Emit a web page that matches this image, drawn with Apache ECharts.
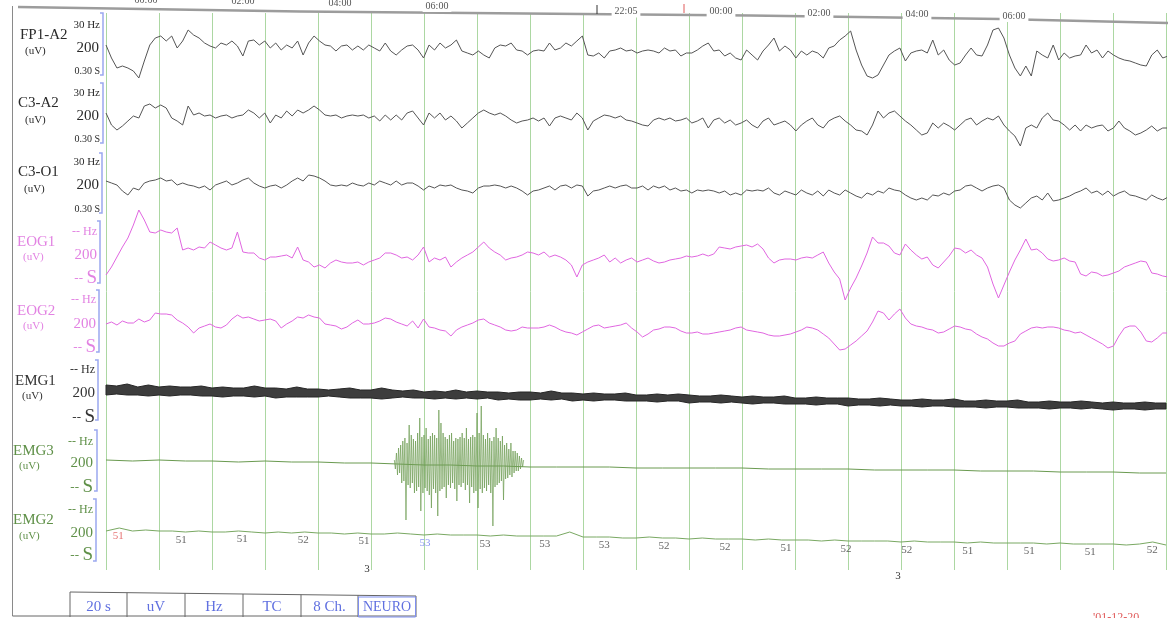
<!DOCTYPE html>
<html><head><meta charset="utf-8">
<script src="https://cdn.jsdelivr.net/npm/echarts@6/dist/echarts.min.js"></script>
<style>html,body{margin:0;padding:0;background:#fff;overflow:hidden}#c{width:1173px;height:618px}</style>
</head><body><div id="c"></div>
<script>
// ---------- time base ----------
const SAMPLE_RATE = 9.68;      // EEG / EOG samples per second
const EMG1_STEP = 0.2;         // seconds between EMG1 envelope samples
const EMG3_STEP = 0.5;         // seconds between EMG3 baseline samples
const EMG2_STEP = 0.25;        // seconds between EMG2 samples
const BURST_START = 5.44;      // EMG3 burst start (s)
const BURST_STEP = 0.02;       // EMG3 burst sample step (s)

const channelNames = ['FP1-A2','C3-A2','C3-O1','EOG1','EOG2','EMG1','EMG3','EMG2'];

// ---------- traces: deflection (px ~ uV scale), positive = up ----------
const fp1a2 = [3,-10,-20,-18,-20,-23,-30,-13,3,10,
12,7,12,0,7,18,13,10,5,2,
0,5,3,7,2,-8,7,8,3,7,
0,5,-2,3,0,7,-7,5,12,7,
3,2,-3,2,3,-2,2,-2,3,0,
-3,5,-3,-7,-2,2,3,-2,-10,3,
-2,5,0,3,8,-3,-5,-7,-3,-7,
-10,0,3,2,5,-2,-3,-7,-3,-2,
-3,5,-2,0,5,2,7,12,-7,-8,
-5,-10,-3,-2,0,-3,-2,
-5,-3,-2,-3,-5,0,-3,-2,-8,-5,
-5,-2,2,5,-3,-2,-8,-5,-10,-12,
-2,-7,-12,-3,3,10,-3,2,-2,-10,
-3,-7,-3,-5,-10,0,2,8,12,17,
-2,-17,-28,-30,-27,-17,-7,-3,0,-13,
-5,-3,-2,-5,8,-7,-2,-12,-17,-15,
-7,0,-7,-8,3,18,20,10,-7,-20,
-28,-18,-28,-3,-7,-10,3,-12,-5,-10,
-8,-7,3,-5,-2,-10,-3,-7,-10,-12,
-13,-15,-17,-18,-7,-2,-10,-8,-9,-8,
-9];
const c3a2 = [3,-9,-14,-10,-5,0,-2,10,12,8,
11,8,-2,-5,-9,10,1,3,0,1,
-2,0,1,-2,0,1,6,3,-2,3,
-7,1,-2,5,0,6,3,6,10,6,
1,0,1,-2,0,1,0,1,-2,0,
-5,1,-4,1,-4,3,5,-2,-9,3,
-2,3,-4,0,-5,-12,-7,-2,3,6,
3,1,3,0,-4,-7,-5,-4,-2,-5,
-2,-10,-2,0,-2,-4,3,-2,-14,-5,
-2,1,0,-2,0,-4,-5,
-7,-9,-10,-4,-2,-4,-2,-5,-4,-2,
-7,-5,-2,-12,-4,-2,-7,-4,-9,-7,
-4,-9,-12,-5,-2,-9,-7,-5,-9,-15,
-9,-5,-2,-9,-12,-5,-2,0,-5,-9,
-14,-15,-19,-9,5,-2,3,5,0,-5,
-9,-14,-19,-17,-7,-12,-7,-10,-14,-9,
-4,-2,-9,-5,-2,-4,0,-9,-15,-20,
-30,-12,-9,-12,-2,3,-4,-5,-9,-14,
-9,-15,-9,-12,-10,-9,-15,-12,-5,-12,
-15,-19,-17,-14,-10,-15,-12,-12,-11,-12,
-12];
const c3o1 = [4,2,0,-6,-10,-3,-5,2,4,5,
7,4,5,0,2,0,-1,-3,-1,-5,
0,2,4,0,2,5,7,2,-1,-3,
-1,0,-3,0,4,7,4,10,9,7,
4,0,-1,0,-1,2,0,-1,2,0,
4,2,0,4,0,2,2,-1,-5,-1,
-3,0,-1,0,-3,-5,-6,-8,-3,-1,
-1,0,-1,-3,-1,-3,-6,-10,-6,-5,
-3,-1,-5,-1,0,-3,0,-1,-11,-6,
-5,-3,-1,-3,-1,0,-3,
-3,-1,-5,-1,-3,-1,-5,-3,-6,-5,
-8,-5,-6,-5,-6,-8,-6,-10,-8,-10,
-5,-6,-5,-6,-3,-8,-10,-6,-8,-10,
-5,-8,-10,-6,-11,-5,-8,-10,-5,-8,
-11,-13,-8,-10,-6,-8,-3,-5,-6,-10,
-13,-15,-13,-15,-10,-11,-8,-10,-6,-5,
-1,0,-3,-6,-3,-1,0,-3,-15,-20,
-23,-18,-13,-11,-15,-8,-16,-15,-13,-11,
-8,-6,-3,-8,-6,-10,-6,-11,-8,-6,
-10,-11,-13,-15,-10,-13,-15,-12,-12,-13,
-12];
const eog1 = [-20,-12,-2,8,17,30,45,35,23,22,
25,23,22,27,5,7,5,8,7,13,
10,7,5,7,23,3,2,2,-3,-5,
-2,-2,-1,0,-3,8,-5,-7,-12,-10,
-13,-8,-5,-7,-8,-8,-7,-10,-7,-5,
-3,2,2,0,-3,-2,-5,0,8,-7,
-3,-5,-2,-12,-7,-3,0,3,8,13,
7,3,0,-5,-3,-2,0,3,2,0,
3,-2,0,-2,-5,-10,-22,-10,-7,-5,
-3,0,-7,-3,-8,-5,-3,
-7,-5,-3,-6,-8,-7,-5,-4,-3,-1,
-2,-1,1,-1,1,8,7,6,8,9,
10,8,11,6,-3,-8,-5,-4,-4,-5,
-3,-2,-3,0,3,-8,-17,-24,-45,-33,
-23,-11,2,18,12,12,9,2,0,11,
5,0,-4,-2,-10,-13,-7,-1,7,6,
2,5,0,-3,-12,-29,-43,-30,-17,-5,
5,16,5,6,2,-4,-6,-5,-3,-6,
-7,-19,-21,-17,-18,-21,-20,-18,-16,-12,
-10,-8,-6,-7,-18,-19,-21,-22,-20,-21,
-22];
const eog2 = [0,2,-1,3,1,1,5,2,4,11,
10,10,9,4,1,-3,-9,-4,-2,0,
-3,-4,-1,5,9,6,7,5,3,4,
5,3,-4,0,3,7,6,9,7,6,
0,-1,-2,-5,-3,1,4,0,0,1,
3,6,5,2,0,-2,3,-4,5,-3,
-4,-6,-7,-12,-6,-3,-1,1,4,5,
1,-1,-3,-6,-7,-6,-3,-4,-4,-4,
-3,-1,-3,-6,-8,-9,-11,-8,-5,-2,
-1,-4,-3,-2,-1,1,-4,
-8,-13,-10,-6,-5,-3,-3,-4,-7,-9,
-9,-8,-10,-10,-9,-8,-7,-6,-4,-3,
-6,-7,-8,-9,-11,-12,-12,-11,-10,-8,
-6,-3,-4,-6,-10,-14,-20,-26,-25,-21,
-17,-12,-7,2,13,11,4,10,15,6,
0,-2,-3,-5,-6,-9,-8,-5,-2,-3,
-5,-6,-10,-13,-15,-19,-22,-22,-19,-17,
-10,-7,-4,-3,-4,-3,-3,-4,-6,-7,
-9,-8,-11,-14,-17,-20,-24,-22,-12,-4,
-2,-2,-8,-17,-18,-14,-9,-9,-9,-8,
-8];
// EMG1: upper / lower edge of the dense band
const emg1Upper = [8,7,9,6,8,6,7,6,6,7,
5,6,5,5,7,5,5,4,6,4,
4,3,4,5,3,3,5,3,2,3,
1,2,1,3,1,2,1,1,0,1,
1,0,2,0,0,-1,0,-1,-1,0,
-2,-2,-1,-2,-1,-2,-3,-3,-2,-3,
-4,-3,-4,-4,-3,-5,-5,-4,-5,-5,
-5,-6,-6,-5,-6,-7,-7,-6,-7,-7,
-6,-8,-8,-7,-8,-8,-7,-9,-9,-8,
-9,-9,-8,-9,-10,-9,-10,-10,-9,-10,
-10];
const emg1Lower = [-2,-1,-2,-2,-3,-2,-3,-2,-2,-3,
-3,-4,-3,-3,-4,-3,-5,-4,-4,-4,
-4,-3,-4,-5,-5,-5,-6,-5,-4,-5,
-5,-6,-5,-6,-5,-6,-5,-7,-6,-7,
-7,-6,-7,-6,-8,-7,-8,-7,-7,-8,
-8,-8,-9,-8,-8,-10,-9,-9,-10,-9,
-10,-11,-10,-10,-11,-11,-11,-12,-11,-11,
-13,-12,-12,-13,-12,-13,-13,-14,-13,-13,
-14,-14,-14,-15,-14,-14,-15,-15,-15,-16,
-15,-15,-16,-15,-16,-17,-16,-16,-17,-16,
-16];
const emg3 = [3,2,3,2,2,1,2,1,1,0,
0,-1,-2,-2,-3,-3,-4,-4,-4,-4,
-5,-5,-5,-5,-5,-6,-6,-6,-6,-7,
-7,-7,-7,-8,-8,-8,-9,-9,-9,-10,
-10];
const emg3Burst = [3,-6,10,-12,15,-10,18,-20,22,-18,
25,-57,20,-22,38,-25,28,-20,24,-30,
22,-28,30,-24,45,-48,26,-30,28,-25,
35,-28,24,-32,27,-45,30,-26,28,-30,
25,-53,53,-28,40,-26,30,-24,26,-35,
24,-22,28,-25,30,-20,22,-26,25,-38,
24,-22,26,-24,30,-20,25,-27,35,-22,
24,-40,26,-24,28,-30,26,-28,50,-45,
30,-26,57,-30,28,-25,24,-28,30,-22,
25,-30,22,-63,26,-24,35,-22,25,-20,
22,-18,27,-37,18,-16,20,-15,14,-12,
20,-14,12,-10,12,-8,10,-8,7,-6,
5,-4,3];
const emg2 = [2,5,2,3, 2,2,1,2, 1,1,2,1, 0,1,0,1, 0,0,-1,0,
-1,-1,0,-1, -2,-1,-2,-2, -2,-3,-2,-3, -3,-3,-3,1, -4,-4,-4,-5,
-5,-4,-5,-5, -6,-5,-6,-6, -6,-7,-6,-7, -7,-7,-8,-7, -8,-8,-8,-8,
-9,-8,-9,-9, -9,-10,-9,-10, -10,-10,-10,-11, -10,-11,-11,-11, -11,-12,-11,-9,
-12];
// numbers printed along EMG2
const hrTimes  = [0.23,1.42,2.57,3.72,4.87,6.02,7.15,8.28,9.40,10.53,11.68,12.83,13.96,15.11,16.26,17.42,18.57,19.74];
const hrValues = [51,51,51,52,51,53,53,53,53,52,52,51,52,52,51,51,51,52];
// overview time labels (top strip)
const topLabels = ['00:00','02:00','04:00','06:00','22:05','00:00','02:00','04:00','06:00'];
const footerCells = ['20 s','uV','Hz','TC','8 Ch.','NEURO'];

// ---------- layout ----------
const SERIF = '"Liberation Serif","DejaVu Serif",serif';
const GL = 106, GR = 7;
const chan = [
 {base:48,  R:45, color:'#555555', txt:'#2a2a2a', kind:'eeg', nx:20, ny:35, ux:25, uy:51, rx:100, ty:25, my:48, by:71, bx:103, b0:13, b1:75},
 {base:116, R:45, color:'#555555', txt:'#2a2a2a', kind:'eeg', nx:18, ny:103, ux:25, uy:120, rx:100, ty:93, my:116, by:139, bx:103, b0:83, b1:143},
 {base:185, R:45, color:'#555555', txt:'#2a2a2a', kind:'eeg', nx:18, ny:172, ux:24, uy:189, rx:100, ty:162, my:185, by:209, bx:102, b0:153, b1:213},
 {base:255, R:55, color:'#e066e0', txt:'#e282e2', kind:'x', nx:17, ny:242, ux:23, uy:257, rx:97, ty:232, my:255, by:278, bx:100, b0:221, b1:283},
 {base:324, R:45, color:'#e066e0', txt:'#e282e2', kind:'x', nx:17, ny:311, ux:23, uy:326, rx:96, ty:300, my:324, by:347, bx:99, b0:290, b1:352},
 {base:393, R:30, color:'#2e2e2e', txt:'#333333', kind:'x', nx:15, ny:381, ux:22, uy:396, rx:95, ty:370, my:393, by:417, bx:98, b0:360, b1:420},
 {base:463, R:70, color:'#6a9a50', txt:'#5f9048', kind:'x', nx:13, ny:451, ux:19, uy:466, rx:93, ty:442, my:463, by:487, bx:97, b0:430, b1:491},
 {base:533, R:45, color:'#79a862', txt:'#5f9048', kind:'x', nx:13, ny:520, ux:19, uy:536, rx:93, ty:510, my:533, by:555, bx:96, b0:499, b1:561}
];

const grids = [{left:GL, right:GR, top:13, height:557}];
const xAxes = [{gridIndex:0, type:'value', min:0, max:20, interval:1,
  axisLine:{show:false}, axisTick:{show:false}, axisLabel:{show:false},
  splitLine:{show:true, lineStyle:{color:'#acd7a2', width:1}}}];
const yAxes = [{gridIndex:0, type:'value', min:0, max:1, show:false}];
chan.forEach((c,i)=>{
  grids.push({left:GL, right:GR, top:c.base-c.R, height:2*c.R});
  xAxes.push({gridIndex:i+1, type:'value', min:0, max:20, show:false});
  yAxes.push({gridIndex:i+1, type:'value', min:-c.R, max:c.R, show:false});
});

const toXY = (arr, step, t0) => arr.map((v,i)=>[(t0||0)+i*step, v]);
const lineS = (idx, data, color, width, extra) => Object.assign({
  type:'line', xAxisIndex:idx, yAxisIndex:idx, data, symbol:'none', showSymbol:false,
  lineStyle:{color, width}, silent:true, animation:false, z:5}, extra||{});

const eegDt = 1/SAMPLE_RATE;
const series = [
  {type:'line', xAxisIndex:0, yAxisIndex:0, data:[], symbol:'none'},
  lineS(1, toXY(fp1a2, eegDt), chan[0].color, 1),
  lineS(2, toXY(c3a2, eegDt), chan[1].color, 1),
  lineS(3, toXY(c3o1, eegDt), chan[2].color, 1),
  lineS(4, toXY(eog1, eegDt), chan[3].color, 1),
  lineS(5, toXY(eog2, eegDt), chan[4].color, 1),
  // EMG1 dense band between its upper and lower edges
  {type:'custom', xAxisIndex:6, yAxisIndex:6, data:[[0,0]], silent:true, animation:false, z:5,
   renderItem:(params, api)=>{
     const pts = [];
     emg1Upper.forEach((v,i)=>pts.push(api.coord([i*EMG1_STEP, v])));
     for (let i=emg1Lower.length-1;i>=0;i--) pts.push(api.coord([i*EMG1_STEP, emg1Lower[i]]));
     return {type:'polygon', shape:{points:pts}, style:{fill:'#3d3d3d', stroke:'#262626', lineWidth:1}};
   }},
  lineS(7, toXY(emg3, EMG3_STEP), chan[6].color, 1),
  lineS(7, toXY(emg3Burst, BURST_STEP, BURST_START), '#6f9d55', 0.8, {lineStyle:{color:'#6f9d55', width:0.8, opacity:0.9}}),
  lineS(8, toXY(emg2, EMG2_STEP), chan[7].color, 1),
  {type:'scatter', xAxisIndex:8, yAxisIndex:8, symbolSize:1, itemStyle:{color:'rgba(0,0,0,0)'},
   silent:true, animation:false, z:6,
   data: hrTimes.map((t,k)=>{
     const lvl = emg2[Math.min(emg2.length-1, Math.round(t/EMG2_STEP))] - 8;
     const col = k===0 ? '#e05252' : (k===5 ? '#6c7cf0' : '#404040');
     return {value:[t,lvl], label:{color:col}};
   }),
   label:{show:true, position:'inside', fontFamily:SERIF, fontSize:11,
     formatter:p=>String(hrValues[p.dataIndex])}}
];

// ---------- decorations ----------
const G = [];
const txt = (s, x, y, size, fill, align, valign) => G.push({type:'text', x, y, z:20, silent:true,
  style:{text:s, font:size+'px '+SERIF, fill, align:align||'left', verticalAlign:valign||'middle',
         textAlign:align||'left', textVerticalAlign:valign||'middle'}});
const pline = (pts, stroke, w, z) => G.push({type:'polyline', z:z||20, silent:true,
  shape:{points:pts}, style:{stroke, lineWidth:w, fill:null}});

// frame
pline([[12.5,6],[12.5,616]], '#8a8a8a', 1);
pline([[18,7],[300,11.5],[750,15.5],[1000,19],[1168,23]], '#9c9c9c', 2.5, 21);
// top overview labels
const topPos = [[146,0],[243,1],[340,3],[437,6],[626,11.5],[721,11.5],[819,13],[917,14],[1014,16]];
topLabels.forEach((s,k)=>{
  G.push({type:'text', x:topPos[k][0], y:topPos[k][1], z:22, silent:true,
    style:{text:s, font:'10px '+SERIF, fill:'#555', align:'center', verticalAlign:'middle',
      textAlign:'center', textVerticalAlign:'middle', backgroundColor:'#fff', padding:[1,3]}});
});
pline([[597,5],[597,14]], '#333', 1, 23);
pline([[684,4],[684,13]], '#e05a5a', 1, 23);

// channel labels and scale brackets
chan.forEach((c,i)=>{
  txt(channelNames[i], c.nx, c.ny, 15, c.txt);
  txt('(uV)', c.ux, c.uy, 11, c.txt);
  if (c.kind==='eeg') {
    txt('30 Hz', c.rx, c.ty, 11, c.txt, 'right');
    txt('200', c.rx-1, c.my, 15, c.txt, 'right');
    txt('0.30 S', c.rx, c.by, 10, c.txt, 'right');
  } else {
    txt('-- Hz', c.rx, c.ty, 12, c.txt, 'right');
    txt('200', c.rx, c.my, 15, c.txt, 'right');
    txt('S', c.rx, c.by, 19, c.txt, 'right');
    txt('--', c.rx-14, c.by+1, 13, c.txt, 'right');
  }
  pline([[c.bx-3,c.b0],[c.bx,c.b0],[c.bx,c.b1],[c.bx-3,c.b1]], '#9aa8f0', 1.5);
});

// small marks below EMG2
txt('3', 367, 569, 11, '#333', 'center');
txt('3', 898, 576, 11, '#333', 'center');
txt("'01-12-20", 1093, 612, 12, '#e05a5a', 'left', 'top');

// footer cells
const cellX = [70,127,185,243,301,358,416];
pline([[12.5,616],[416,616]], '#666', 1);
pline([[70,592],[416,596]], '#666', 1);
cellX.forEach(x=>pline([[x,592+(x-70)*4/346],[x,617]], '#666', 1));
G.push({type:'rect', z:21, silent:true, shape:{x:358.5,y:597,width:57,height:20},
  style:{stroke:'#7f8ff0', lineWidth:1, fill:null}});
footerCells.forEach((s,k)=>{
  const cx = (cellX[k]+cellX[k+1])/2;
  txt(s, cx, 607, k===5?14:15, '#6070e0', 'center');
});

const chart = echarts.init(document.getElementById('c'), null, {renderer:'canvas'});
chart.setOption({
  animation:false,
  backgroundColor:'#ffffff',
  grid:grids, xAxis:xAxes, yAxis:yAxes, series,
  graphic:{elements:G}
});
</script>
</body></html>
